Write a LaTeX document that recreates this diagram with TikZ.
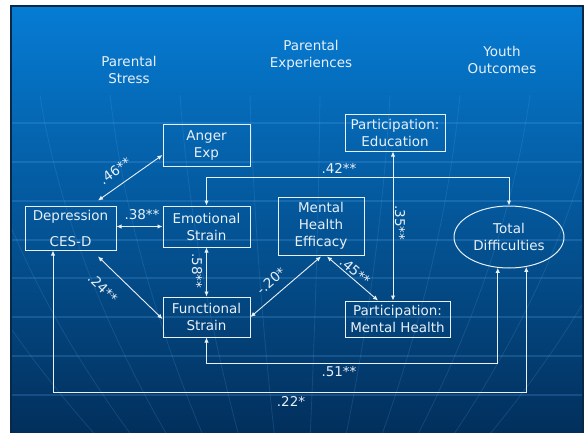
\documentclass[tikz,border=0pt]{standalone}
\usepackage{fontspec}
\setmainfont{DejaVu Sans}
\usetikzlibrary{arrows.meta,shapes.geometric,calc}

\definecolor{slidetop}{RGB}{6,124,212}
\definecolor{slidemid}{RGB}{4,90,162}
\definecolor{slidebot}{RGB}{2,46,90}
\definecolor{ink}{RGB}{232,240,248}
\definecolor{rim}{RGB}{8,40,72}
\definecolor{gridline}{RGB}{90,170,240}

\begin{document}
\begin{tikzpicture}[x=1pt,y=-1pt,
  every node/.style={font=\fontsize{13.5}{17}\selectfont, text=ink, align=center},
  box/.style={draw=ink, line width=1pt, inner sep=0pt},
  lnk/.style={draw=ink, line width=0.9pt, {Latex[length=5pt,width=4.5pt]}-{Latex[length=5pt,width=4.5pt]}},
  coef/.style={inner sep=1pt}]

\useasboundingbox (0,0) rectangle (586,433);
\fill[white] (0,0) rectangle (586,433);

% slide background
\shade[top color=slidetop, middle color=slidemid, bottom color=slidebot] (11,6) rectangle (583,440);
\begin{scope}
  \clip (11,6) rectangle (583,440);
  \foreach \y in {123,162,201,240,278,317,356,395}
    \draw[gridline, opacity=0.22, line width=1.2pt] (12,\y) -- (582,\y);
  \foreach \x in {-100,-30,40,110,180,250,320,390,460,530,600,670} {
    \pgfmathsetmacro{\b}{300+(\x-300)*0.5}
    \pgfmathsetmacro{\ca}{\x+(\b-\x)*0.15}
    \pgfmathsetmacro{\cb}{\x+(\b-\x)*0.55}
    \draw[gridline, opacity=0.18, line width=0.8pt]
      (\x,95) .. controls (\ca,220) and (\cb,340) .. (\b,440);
  }
\end{scope}
\draw[rim, line width=1.5pt] (11,6) rectangle (583,440);

% column headings
\node (stress) at (129,69.5) {Parental\\Stress};
\node (exper) at (311,55) {Parental\\Experiences};
\node (youth) at (502,60) {Youth\\Outcomes};

% variables
\node[box, minimum width=87pt, minimum height=41pt] (anger) at (206.5,145.5) {Anger\\Exp};
\node[box, minimum width=91pt, minimum height=44pt] (dep) at (70.5,228) {Depression\\[9pt]CES-D};
\node[box, minimum width=87pt, minimum height=41pt] (emo) at (206.5,226.5) {Emotional\\Strain};
\node[box, minimum width=87pt, minimum height=40pt] (func) at (206.5,317) {Functional\\Strain};
\node[box, minimum width=86pt, minimum height=58pt] (meh) at (321,226) {Mental\\Health\\Efficacy};
\node[box, minimum width=100pt, minimum height=36pt] (pedu) at (395,133) {Participation:\\Education};
\node[box, minimum width=105pt, minimum height=36pt] (pmh) at (397.5,319) {Participation:\\Mental Health};
\node[draw=ink, line width=1pt, ellipse, inner sep=0pt, minimum width=110pt, minimum height=62pt] (td) at (509,237) {Total\\Difficulties};

% paths
\draw[lnk] ([xshift=27.5pt,yshift=5pt]dep.north) -- ([yshift=-9.5pt]anger.west);
\draw[lnk] (emo.west -| dep.east) -- (emo.west);
\draw[lnk] (emo.south) -- (func.north);
\draw[lnk] ([xshift=27.5pt,yshift=-6pt]dep.south) -- ([yshift=-2pt]func.west);
\draw[lnk] ([yshift=-1pt]meh.south) -- (func.east);
\draw[lnk] ([xshift=6pt,yshift=-1pt]meh.south) -- ([xshift=-19.5pt]pmh.north);
\draw[lnk] ([xshift=-2pt]pedu.south) -- ([xshift=-2pt]pedu.south |- pmh.north);
\draw[lnk] (emo.north) -- ++(0,-28) -| (td.north);
\draw[lnk] (func.south) -- ++(0,26) -| (td.-110);
\draw[lnk] ([xshift=-17.5pt]dep.south) -- ++(0,142) -| (td.-60);

% coefficients
\node[coef, rotate=35] (l46) at (115,171) {.46**};
\node[coef] (l38) at (142,215) {.38**};
\node[coef, rotate=-90] (l58) at (197,271) {.58**};
\node[coef, rotate=-44] (l24) at (103,288) {.24**};
\node[coef, rotate=41] (l20) at (271,281) {-.20*};
\node[coef, rotate=-41] (l45) at (355,271) {.45**};
\node[coef, rotate=-90] (l35) at (400,223) {.35**};
\node[coef] (l42) at (339,168) {.42**};
\node[coef] (l51) at (339,372) {.51**};
\node[coef] (l22) at (291,401) {.22*};
\end{tikzpicture}
\end{document}
